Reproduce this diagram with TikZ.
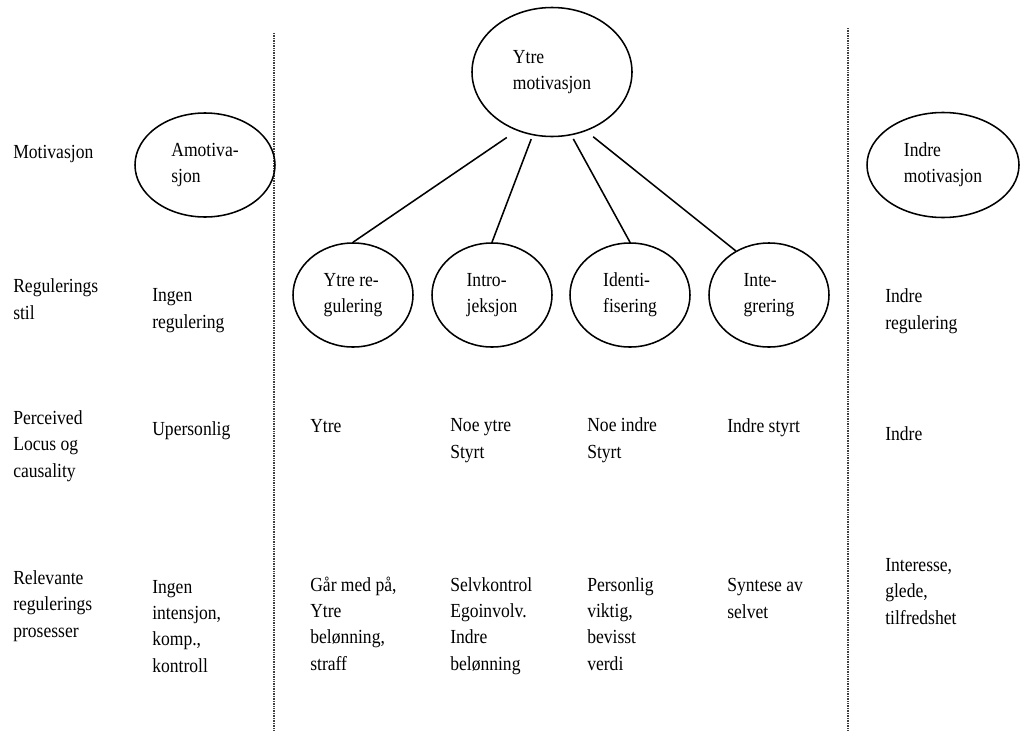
\documentclass[tikz,border=0pt]{standalone}
\usepackage{fontspec}
\setmainfont{Liberation Serif}[FakeStretch=0.88]
\usetikzlibrary{shapes.geometric}
\begin{document}
\begin{tikzpicture}[x=0.25mm,y=-0.25mm,
  txt/.style={anchor=base west,align=left,inner sep=0pt,
    font=\fontsize{14.2pt}{18.5pt}\selectfont},
  oval/.style={draw,ellipse,line width=1.1pt,align=left,inner sep=0pt,
    font=\fontsize{14.2pt}{18.5pt}\selectfont},
  divider/.style={line width=0.8pt,black!75,dash pattern=on 0.5pt off 0.7pt},
  link/.style={line width=1.1pt}]
\useasboundingbox (0,0) rectangle (1020,731);
% column dividers
\path[divider,draw] (274,33) -- (274,731);
\path[divider,draw] (848,28) -- (848,731);
% row labels (placed at the baseline of the last line)
\node[txt] (lmot) at (13,158) {Motivasjon};
\node[txt] (lreg) at (13,319) {Regulerings\\stil};
\node[txt] (lloc) at (13,477) {Perceived\\Locus og\\causality};
\node[txt] (lrel) at (13,637) {Relevante\\regulerings\\prosesser};
% amotivasjon
\node[oval,minimum width=35mm,minimum height=26mm] (amot) at (205,165) {Amotiva-\\sjon};
\node[txt] (areg) at (152,328) {Ingen\\regulering};
\node[txt] (aloc) at (152,435) {Upersonlig};
\node[txt] (arel) at (152,672) {Ingen\\intensjon,\\komp.,\\kontroll};
% ytre motivasjon
\node[oval,minimum width=40mm,minimum height=32.25mm] (ym) at (552,72) {Ytre\\motivasjon};
\node[oval,minimum width=30mm,minimum height=26mm] (yr) at (353,295) {Ytre re-\\gulering};
\node[oval,minimum width=30mm,minimum height=26mm] (ij) at (492,295) {Intro-\\jeksjon};
\node[oval,minimum width=30mm,minimum height=26mm] (id) at (630,295) {Identi-\\fisering};
\node[oval,minimum width=30mm,minimum height=26mm] (ig) at (769,295) {Inte-\\grering};
\path[link,shorten <=3mm,draw] (ym.239.5) -- (yr.north);
\path[link,shorten <=1mm,draw] (ym.253) -- (ij.north);
\path[link,shorten <=1mm,draw] (ym.287) -- (id.north);
\path[link,shorten <=2.25mm,draw] (ym.300) -- (ig.127);
\node[txt] (yloc) at (310,432) {Ytre};
\node[txt] (ijloc) at (450,458) {Noe ytre\\Styrt};
\node[txt] (idloc) at (587,458) {Noe indre\\Styrt};
\node[txt] (igloc) at (727,432) {Indre styrt};
\node[txt] (yrel) at (310,670) {Går med på,\\Ytre\\belønning,\\straff};
\node[txt] (ijrel) at (450,670) {Selvkontrol\\Egoinvolv.\\Indre\\belønning};
\node[txt] (idrel) at (587,670) {Personlig\\viktig,\\bevisst\\verdi};
\node[txt] (igrel) at (727,618) {Syntese av\\selvet};
% indre motivasjon
\node[oval,minimum width=38mm,minimum height=26.25mm] (im) at (943,165) {Indre\\motivasjon};
\node[txt] (ireg) at (885,329) {Indre\\regulering};
\node[txt] (iloc) at (885,440) {Indre};
\node[txt] (irel) at (885,624) {Interesse,\\glede,\\tilfredshet};
\end{tikzpicture}
\end{document}
